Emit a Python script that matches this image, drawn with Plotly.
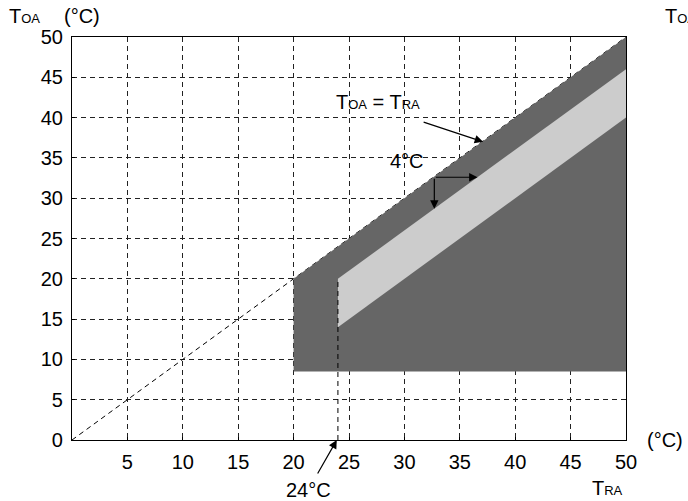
import plotly.graph_objects as go

# Data
x_ticks = [5, 10, 15, 20, 25, 30, 35, 40, 45, 50]
y_ticks = [0, 5, 10, 15, 20, 25, 30, 35, 40, 45, 50]

# Dark operating region (T_RA, T_OA)
dark_x = [20, 20, 50, 50, 20]
dark_y = [8.5, 20, 50, 8.5, 8.5]
# Light band between T_OA = T_RA - 4 and T_OA = T_RA - 10, from 24 degC
light_x = [24, 24, 50, 50, 24]
light_y = [14, 20, 46, 40, 14]
# Equality line T_OA = T_RA
eq_x = [0, 50]
eq_y = [0, 50]
# 24 degC marker line
m24_x = [24, 24]
m24_y = [0, 20]

FONT = "Liberation Sans, Arial, Helvetica, sans-serif"
FS = 20
SMALL = "<span style='font-size:13px'>%s</span>"

fig = go.Figure()
fig.add_trace(go.Scatter(x=eq_x, y=eq_y, mode="lines",
                         line=dict(color="black", width=1, dash="5px,4px"),
                         hoverinfo="skip", showlegend=False))
fig.add_trace(go.Scatter(x=dark_x, y=dark_y, mode="lines", fill="toself",
                         fillcolor="#666666", line=dict(width=0, color="#666666"),
                         hoverinfo="skip", showlegend=False))
fig.add_trace(go.Scatter(x=light_x, y=light_y, mode="lines", fill="toself",
                         fillcolor="#cccccc", line=dict(width=0, color="#cccccc"),
                         hoverinfo="skip", showlegend=False))
fig.add_trace(go.Scatter(x=m24_x, y=m24_y, mode="lines",
                         line=dict(color="black", width=1, dash="5px,4px"),
                         hoverinfo="skip", showlegend=False))

# 4 degC arrows
fig.add_annotation(x=36.6, y=32.6, ax=32.7, ay=32.6, xref="x", yref="y",
                   axref="x", ayref="y", showarrow=True, arrowhead=2,
                   arrowsize=1.4, arrowwidth=1.2, arrowcolor="black", text="")
fig.add_annotation(x=32.7, y=28.7, ax=32.7, ay=32.6, xref="x", yref="y",
                   axref="x", ayref="y", showarrow=True, arrowhead=2,
                   arrowsize=1.4, arrowwidth=1.2, arrowcolor="black", text="")
fig.add_annotation(x=30.2, y=34.6, xref="x", yref="y", text="4°C",
                   showarrow=False, font=dict(size=FS, color="black", family=FONT))

# T_OA = T_RA arrow
fig.add_annotation(x=37.1, y=37.0, ax=31.6, ay=39.5, xref="x", yref="y",
                   axref="x", ayref="y", showarrow=True, arrowhead=2,
                   arrowsize=1.4, arrowwidth=1.2, arrowcolor="black", text="")
fig.add_annotation(x=27.6, y=41.9, xref="x", yref="y",
                   text="T" + SMALL % "OA" + " = T" + SMALL % "RA",
                   showarrow=False, font=dict(size=FS, color="black", family=FONT))

# 24 degC arrow (head at T_RA = 24 on the axis)
fig.add_annotation(x=23.9, y=0, xref="x", yref="y", ax=-20, ay=35,
                   showarrow=True, arrowhead=2, arrowsize=1.4, arrowwidth=1.2,
                   arrowcolor="black", text="")
fig.add_annotation(x=21.3, y=-0.125, xref="x", yref="paper", text="24°C",
                   showarrow=False, yanchor="middle",
                   font=dict(size=FS, color="black", family=FONT))

# Axis titles and units
fig.add_annotation(x=1, y=0, xref="paper", yref="paper", xanchor="left", yanchor="middle",
                   xshift=19, text="(°C)", showarrow=False,
                   font=dict(size=FS, color="black", family=FONT))
fig.add_annotation(x=0.9675, y=0, xref="paper", yref="paper", xanchor="center", yanchor="top",
                   yshift=-35, text="T" + SMALL % "RA", showarrow=False,
                   font=dict(size=FS, color="black", family=FONT))
fig.add_annotation(x=0, y=1, xref="paper", yref="paper", xanchor="left", yanchor="bottom",
                   xshift=-65, yshift=8, text="T" + SMALL % "OA", showarrow=False,
                   font=dict(size=FS, color="black", family=FONT))
fig.add_annotation(x=0, y=1, xref="paper", yref="paper", xanchor="left", yanchor="bottom",
                   xshift=-10, yshift=8, text="(°C)", showarrow=False,
                   font=dict(size=FS, color="black", family=FONT))
fig.add_annotation(x=1, y=1, xref="paper", yref="paper", xanchor="left", yanchor="bottom",
                   xshift=37, yshift=8, text="T" + SMALL % "OA", showarrow=False,
                   font=dict(size=FS, color="black", family=FONT))

axis_common = dict(showline=True, linecolor="black", linewidth=1.2, mirror=True,
                   showgrid=True, gridcolor="#222222", gridwidth=1, griddash="5px,4px",
                   zeroline=False, ticks="inside", ticklen=3, tickcolor="black",
                   ticklabelstandoff=4,
                   tickfont=dict(size=FS, color="black", family=FONT))

fig.update_xaxes(range=[0, 50], tickvals=x_ticks, ticktext=[str(v) for v in x_ticks],
                 **axis_common)
fig.update_yaxes(range=[0, 50], tickvals=y_ticks, ticktext=[str(v) for v in y_ticks],
                 **axis_common)

fig.update_layout(width=688, height=501, margin=dict(l=72, r=62, t=37, b=61),
                  plot_bgcolor="white", paper_bgcolor="white",
                  font=dict(family=FONT, color="black"), showlegend=False)

fig.write_html("out.html", config={"displayModeBar": False},
               post_script="document.body.style.margin='0';document.body.style.overflow='hidden';")
